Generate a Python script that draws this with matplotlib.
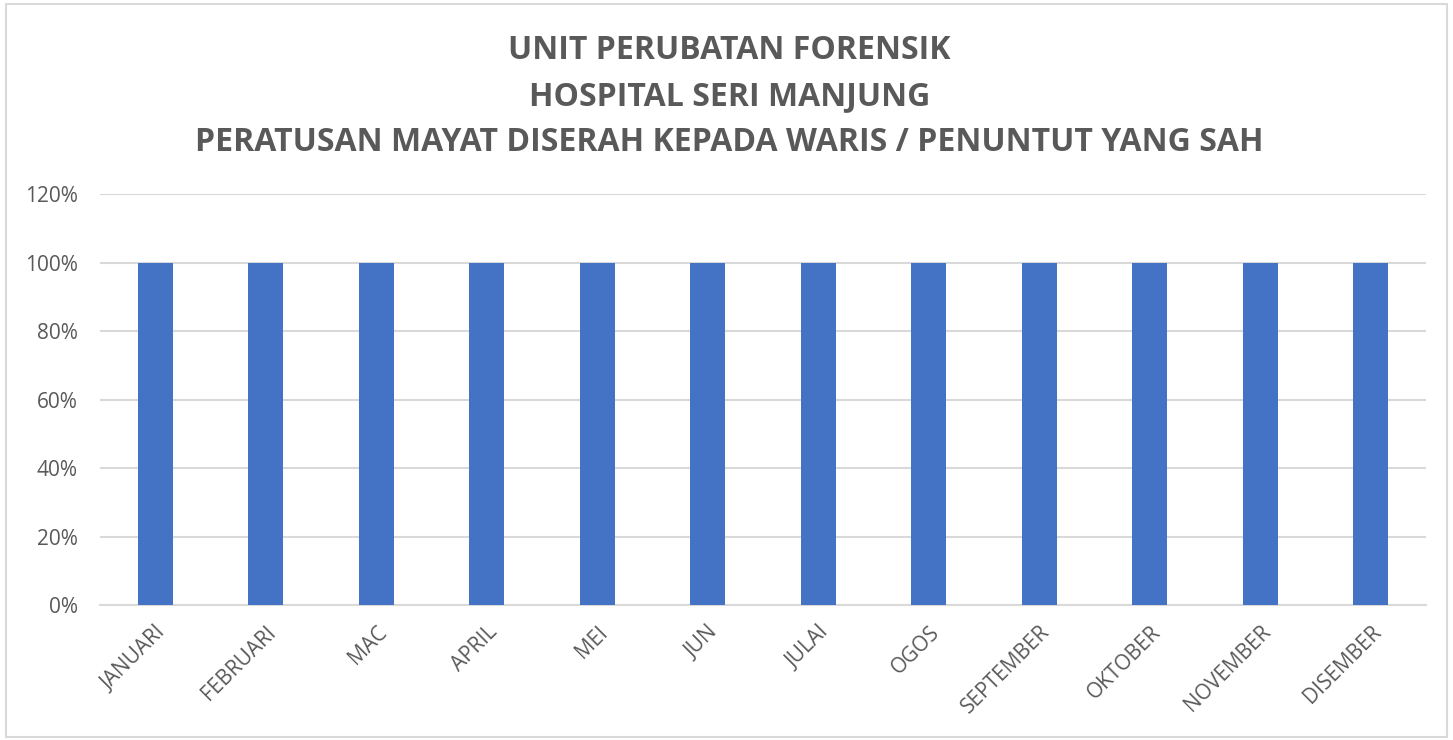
import matplotlib
matplotlib.use("Agg")
import matplotlib.pyplot as plt
from matplotlib.patches import Rectangle
from matplotlib.ticker import PercentFormatter

months = ["JANUARI", "FEBRUARI", "MAC", "APRIL", "MEI", "JUN", "JULAI", "OGOS",
          "SEPTEMBER", "OKTOBER", "NOVEMBER", "DISEMBER"]
peratus = [1.0, 1.0, 1.0, 1.0, 1.0, 1.0, 1.0, 1.0, 1.0, 1.0, 1.0, 1.0]
title_lines = ["UNIT PERUBATAN FORENSIK", "HOSPITAL SERI MANJUNG",
               "PERATUSAN MAYAT DISERAH KEPADA WARIS / PENUNTUT YANG SAH"]

plt.rcParams['font.family'] = ['Open Sans', 'DejaVu Sans']
TXT = "#595959"
GRID = "#d9d9d9"

fig = plt.figure(figsize=(14.53, 7.40), dpi=100)
ax = fig.add_axes([0.0688, 0.1824, 0.9126, 0.5554])

x = range(len(months))
ax.bar(x, peratus, width=0.32, color="#4472C4", zorder=3)
ax.set_xlim(-0.5, len(months) - 0.5)
ax.set_ylim(0, 1.2)
ax.set_yticks([0, 0.2, 0.4, 0.6, 0.8, 1.0, 1.2])
ax.yaxis.set_major_formatter(PercentFormatter(1.0, decimals=0))
ax.set_xticks(list(x))
ax.set_xticklabels(months, rotation=45, ha="right", rotation_mode="anchor")
ax.tick_params(axis="both", length=0, labelsize=15, colors=TXT)
ax.tick_params(axis="y", pad=16)
ax.tick_params(axis="x", pad=12)
ax.grid(axis="y", color=GRID, linewidth=1.5, zorder=0)
for s in ["top", "right", "left"]:
    ax.spines[s].set_visible(False)
ax.spines["bottom"].set_color(GRID)
ax.spines["bottom"].set_linewidth(1.5)

for t, yy in zip(title_lines, [0.932, 0.869, 0.808]):
    fig.text(0.502, yy, t, ha="center", va="center", fontsize=23,
             fontweight="bold", color=TXT)

fig.patches.append(Rectangle((0.004, 0.004), 0.992, 0.990, transform=fig.transFigure,
                             fill=False, edgecolor=GRID, linewidth=1.5))

fig.savefig("out.png", dpi=100)
